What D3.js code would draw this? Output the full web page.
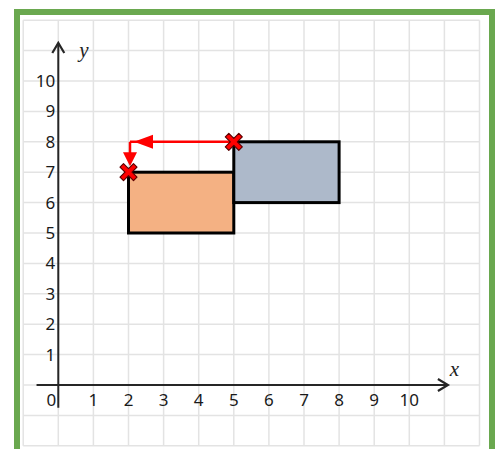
<!DOCTYPE html>
<html>
<head>
<meta charset="utf-8">
<script src="https://cdn.jsdelivr.net/npm/d3@7"></script>
<style>
body{margin:0;background:#fff;}
svg{display:block;}
</style>
</head>
<body>
<script>
// grid range and tick labels
var gridX = [-1, 12];
var gridY = [-2, 12];
var xTicks = [1,2,3,4,5,6,7,8,9,10];
var yTicks = [1,2,3,4,5,6,7,8,9,10];

// the two rectangles (corners in grid units)
var rectNames = ["image", "object"];
var rectX0 = [2, 5];
var rectX1 = [5, 8];
var rectY0 = [5, 6];
var rectY1 = [7, 8];
var rectColors = ["#F4B183", "#ADB9CA"];

// translation path: from (5,8) left to (2,8), then down to (2,7)
var moveX = [5, 2, 2];
var moveY = [8, 8, 7];
var crossX = [5, 2];
var crossY = [8, 7];

var svg = d3.select("body").append("svg").attr("width",495).attr("height",449);

var x = d3.scaleLinear().domain([0,10]).range([58.3,409.3]);
var y = d3.scaleLinear().domain([0,10]).range([385,81]);

// green frame
svg.append("rect").attr("x",17).attr("y",12).attr("width",475).attr("height",450)
  .attr("fill","#fff").attr("stroke","#6AA84F").attr("stroke-width",6);

// grid
var g = svg.append("g");
d3.range(gridX[0], gridX[1]+1).forEach(function(v){
  g.append("line").attr("x1",x(v)).attr("x2",x(v)).attr("y1",y(gridY[0])).attr("y2",y(gridY[1]))
    .attr("stroke","#e3e3e3").attr("stroke-width",1.5);
});
d3.range(gridY[0], gridY[1]+1).forEach(function(v){
  g.append("line").attr("x1",x(gridX[0])).attr("x2",x(gridX[1])).attr("y1",y(v)).attr("y2",y(v))
    .attr("stroke","#e3e3e3").attr("stroke-width",1.5);
});

// axes
var axisColor = "#262626";
svg.append("line").attr("x1",x(-0.62)).attr("x2",x(11.1)).attr("y1",y(0)).attr("y2",y(0))
  .attr("stroke",axisColor).attr("stroke-width",2);
svg.append("line").attr("x1",x(0)).attr("x2",x(0)).attr("y1",y(-0.75)).attr("y2",y(11.25))
  .attr("stroke",axisColor).attr("stroke-width",2);
// arrow heads
svg.append("path").attr("d","M"+(x(11.1)-10)+","+(y(0)-6)+"L"+x(11.1)+","+y(0)+"L"+(x(11.1)-10)+","+(y(0)+6))
  .attr("fill","none").attr("stroke",axisColor).attr("stroke-width",2.2);
svg.append("path").attr("d","M"+(x(0)-6)+","+(y(11.25)+10)+"L"+x(0)+","+y(11.25)+"L"+(x(0)+6)+","+(y(11.25)+10))
  .attr("fill","none").attr("stroke",axisColor).attr("stroke-width",2.2);

// tick labels
var lab = svg.append("g").attr("font-family","'Noto Sans', sans-serif").attr("font-size",17).attr("fill","#1a1a1a");
lab.selectAll(".xt").data(xTicks).enter().append("text")
  .attr("x",function(d){return x(d);}).attr("y",y(0)+21).attr("text-anchor","middle").text(function(d){return d;});
lab.selectAll(".yt").data(yTicks).enter().append("text")
  .attr("x",x(0)-3).attr("y",function(d){return y(d)+6;}).attr("text-anchor","end").text(function(d){return d;});
lab.append("text").attr("x",x(0)-2).attr("y",y(0)+21).attr("text-anchor","end").text("0");

// axis names
svg.append("text").attr("x",x(0.6)).attr("y",y(10.8)).attr("font-family","'Liberation Serif', serif")
  .attr("font-style","italic").attr("font-size",21).attr("fill","#222").text("y");
svg.append("text").attr("x",x(11.15)).attr("y",y(0.3)).attr("font-family","'Liberation Serif', serif")
  .attr("font-style","italic").attr("font-size",21).attr("fill","#222").text("x");

// rectangles
rectNames.forEach(function(n,i){
  svg.append("rect").attr("class",n)
    .attr("x",x(rectX0[i])).attr("y",y(rectY1[i]))
    .attr("width",x(rectX1[i])-x(rectX0[i])).attr("height",y(rectY0[i])-y(rectY1[i]))
    .attr("fill",rectColors[i]).attr("stroke","#000").attr("stroke-width",3);
});

// translation arrows
var red = "#FF0000";
var hx = x(moveX[1])+1.5, vy = y(moveY[1]);
svg.append("line").attr("x1",x(moveX[0])).attr("x2",hx).attr("y1",vy).attr("y2",vy)
  .attr("stroke",red).attr("stroke-width",2.5);
svg.append("path").attr("d","M"+(hx+4)+","+vy+"L"+(hx+23)+","+(vy-7)+"L"+(hx+23)+","+(vy+7)+"Z").attr("fill",red);
var tipY = y(moveY[2])-6;
svg.append("line").attr("x1",hx).attr("x2",hx).attr("y1",vy).attr("y2",tipY-8)
  .attr("stroke",red).attr("stroke-width",2.5);
svg.append("path").attr("d","M"+hx+","+tipY+"L"+(hx-7)+","+(tipY-14)+"L"+(hx+7)+","+(tipY-14)+"Z").attr("fill",red);

// cross markers
var a = 3.5, b = 8.5;
var crossPath = "M"+(-b)+","+(-b+a)+"L"+(-b+a)+","+(-b)+"L0,"+(-a)+"L"+(b-a)+","+(-b)+"L"+b+","+(-b+a)+"L"+a+",0L"+b+","+(b-a)
  +"L"+(b-a)+","+b+"L0,"+a+"L"+(-b+a)+","+b+"L"+(-b)+","+(b-a)+"L"+(-a)+",0Z";
crossX.forEach(function(cx,i){
  svg.append("path").attr("d",crossPath).attr("transform","translate("+x(cx)+","+y(crossY[i])+")")
    .attr("fill",red).attr("stroke","#5a0000").attr("stroke-width",1.2).attr("stroke-linejoin","round");
});
</script>
</body>
</html>
